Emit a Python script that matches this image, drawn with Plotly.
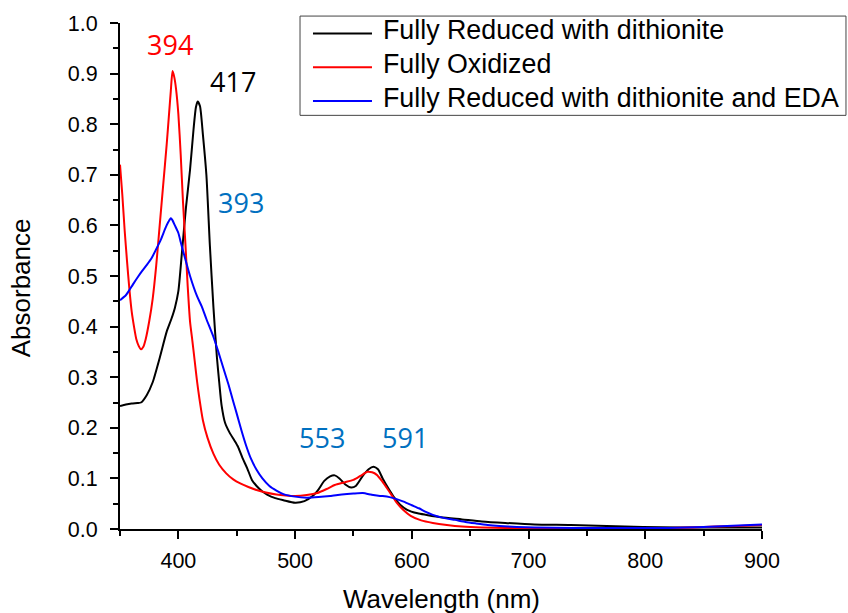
import plotly.graph_objects as go

# Absorbance spectra (wavelength in nm, absorbance in AU)
wl_reduced = [350, 355, 360, 365, 368, 373, 378, 384, 390, 394, 397, 400, 403, 406.5,
              410, 413, 415, 416.5, 418.5, 421, 424, 427, 430, 433, 435, 437, 440,
              444, 448, 451, 455, 459, 463, 467, 472, 476, 483, 490, 500, 508, 515,
              520, 525, 530, 534, 538, 543, 548, 552, 558, 563, 567, 571, 575, 580,
              585, 590, 596, 605, 612, 625, 643, 660, 680, 705, 736, 767, 798, 830,
              860, 900]
abs_reduced = [0.243, 0.246, 0.248, 0.249, 0.250, 0.265, 0.290, 0.338, 0.390, 0.415,
               0.437, 0.470, 0.545, 0.635, 0.710, 0.790, 0.833, 0.845, 0.836, 0.780,
               0.700, 0.560, 0.440, 0.340, 0.290, 0.245, 0.210, 0.190, 0.175, 0.163,
               0.140, 0.120, 0.097, 0.085, 0.074, 0.068, 0.061, 0.057, 0.052, 0.055,
               0.065, 0.078, 0.095, 0.104, 0.106, 0.100, 0.088, 0.082, 0.085, 0.105,
               0.118, 0.123, 0.118, 0.100, 0.080, 0.062, 0.048, 0.038, 0.031, 0.028,
               0.023, 0.019, 0.015, 0.012, 0.009, 0.008, 0.006, 0.004, 0.003, 0.003,
               0.003]

wl_oxidized = [350, 352, 354, 356, 358, 360, 362, 364, 366, 368, 370, 372, 375, 378,
               381, 384, 387, 390, 392, 393.5, 395, 396.5, 398, 400, 402, 404, 406,
               408, 410, 412, 414, 416, 418, 421, 425, 430, 435, 441, 447, 453, 460,
               467, 475, 484, 492, 500, 510, 519, 527, 534, 542, 550, 556, 562, 566,
               570, 574, 578, 583, 587, 593, 599, 608, 618, 630, 643, 660, 680, 720,
               760, 800, 820, 840, 860, 880, 900]
abs_oxidized = [0.720, 0.660, 0.590, 0.530, 0.475, 0.430, 0.400, 0.375, 0.362, 0.355,
                0.360, 0.375, 0.410, 0.455, 0.520, 0.600, 0.680, 0.760, 0.820, 0.865,
                0.905, 0.893, 0.870, 0.820, 0.740, 0.645, 0.565, 0.480, 0.410, 0.372,
                0.332, 0.292, 0.258, 0.215, 0.180, 0.149, 0.127, 0.110, 0.098, 0.090,
                0.083, 0.077, 0.072, 0.068, 0.066, 0.065, 0.067, 0.071, 0.079, 0.087,
                0.092, 0.097, 0.105, 0.113, 0.112, 0.107, 0.096, 0.083, 0.066, 0.052,
                0.037, 0.026, 0.017, 0.012, 0.008, 0.005, 0.003, 0.002, 0.001, 0.001,
                0.001, 0.002, 0.003, 0.005, 0.006, 0.008]

wl_eda = [350, 355, 358, 361, 365, 369, 373, 377, 381, 385, 389, 391.5, 393.5, 395,
          397, 400, 402, 404, 410, 416, 420, 424, 430, 434, 438, 443, 447, 450, 454,
          458, 462, 467, 472, 478, 484, 490, 500, 510, 520, 530, 540, 550, 558, 565,
          570, 575, 581, 587, 593, 600, 606, 612, 618, 627, 637, 646, 655, 665, 675,
          690, 705, 740, 780, 820, 850, 870, 900]
abs_eda = [0.452, 0.462, 0.472, 0.483, 0.497, 0.510, 0.522, 0.535, 0.553, 0.572,
           0.595, 0.607, 0.614, 0.610, 0.600, 0.585, 0.567, 0.550, 0.500, 0.460,
           0.440, 0.415, 0.380, 0.352, 0.322, 0.285, 0.252, 0.228, 0.195, 0.165,
           0.140, 0.117, 0.100, 0.085, 0.076, 0.069, 0.064, 0.062, 0.063, 0.065,
           0.068, 0.070, 0.071, 0.068, 0.066, 0.065, 0.063, 0.059, 0.054, 0.047,
           0.041, 0.034, 0.028, 0.022, 0.018, 0.014, 0.011, 0.008, 0.006, 0.004,
           0.003, 0.002, 0.002, 0.002, 0.004, 0.006, 0.009]

series_names = ["Fully Reduced with dithionite", "Fully Oxidized",
                "Fully Reduced with dithionite and EDA"]
series_colors = ["#000000", "#ff0000", "#0000ff"]

# Peak labels: text, wavelength, absorbance, colour
peak_text = ["394", "417", "393", "553", "591"]
peak_x = [392.8, 446.8, 453.7, 523.3, 594.2]
peak_y = [0.958, 0.884, 0.645, 0.181, 0.181]
peak_color = ["#ff0000", "#000000", "#0070c0", "#0070c0", "#0070c0"]

fig = go.Figure()
for wl, ab, name, col in zip([wl_reduced, wl_oxidized, wl_eda],
                             [abs_reduced, abs_oxidized, abs_eda],
                             series_names, series_colors):
    fig.add_trace(go.Scatter(x=wl, y=ab, mode="lines", name=name,
                             line=dict(color=col, width=2, shape="spline", smoothing=0.6),
                             showlegend=False))

annotations = []
for t, x, y, c in zip(peak_text, peak_x, peak_y, peak_color):
    annotations.append(dict(x=x, y=y, xref="x", yref="y", text=t, showarrow=False,
                            xanchor="center", yanchor="middle",
                            font=dict(family="Open Sans", size=27, color=c)))

# Axis titles
annotations.append(dict(x=0.5, y=-0.138, xref="paper", yref="paper",
                        text="Wavelength (nm)", showarrow=False,
                        xanchor="center", yanchor="middle",
                        font=dict(family="Liberation Sans, Arial", size=26, color="#000")))
annotations.append(dict(x=-0.154, y=0.476, xref="paper", yref="paper",
                        text="Absorbance", showarrow=False, textangle=-90,
                        xanchor="center", yanchor="middle",
                        font=dict(family="Liberation Sans, Arial", size=26, color="#000")))

# Boxed legend
shapes = [dict(type="rect", xref="paper", yref="paper",
               x0=0.2804, x1=1.1308, y0=0.8175, y1=1.0137,
               line=dict(color="#444444", width=1), fillcolor="white", layer="below")]
row_y = [0.9794, 0.9127, 0.8459]
for name, col, ry in zip(series_names, series_colors, row_y):
    shapes.append(dict(type="line", xref="paper", yref="paper",
                       x0=0.3006, x1=0.3925, y0=ry, y1=ry,
                       line=dict(color=col, width=2)))
    annotations.append(dict(x=0.4066, y=ry + 0.006, xref="paper", yref="paper", text=name,
                            showarrow=False, xanchor="left", yanchor="middle",
                            font=dict(family="Liberation Sans, Arial", size=26.8,
                                      color="#000")))

fig.update_layout(
    width=848, height=613,
    margin=dict(l=120, r=86, t=20, b=83.5),
    paper_bgcolor="white", plot_bgcolor="white",
    font=dict(family="Liberation Sans, Arial", color="#000"),
    annotations=annotations,
    shapes=shapes,
)
fig.update_xaxes(range=[350, 900], tick0=0, dtick=100, ticks="outside",
                 ticklen=8, tickwidth=2, tickcolor="#000",
                 showline=True, linewidth=2, linecolor="#000",
                 showgrid=False, zeroline=False, ticklabelstandoff=3,
                 tickfont=dict(size=21.5, color="#000"),
                 minor=dict(dtick=50, ticks="outside", ticklen=5, tickwidth=2,
                            tickcolor="#000", showgrid=False))
fig.update_yaxes(range=[0, 1.0], dtick=0.1, tickformat=".1f", ticks="outside",
                 ticklen=8, tickwidth=2, tickcolor="#000",
                 showline=True, linewidth=2, linecolor="#000",
                 showgrid=False, zeroline=False, ticklabelstandoff=8,
                 tickfont=dict(size=21.5, color="#000"),
                 minor=dict(dtick=0.05, ticks="outside", ticklen=5, tickwidth=2,
                            tickcolor="#000", showgrid=False))

fig.write_html("out.html")
